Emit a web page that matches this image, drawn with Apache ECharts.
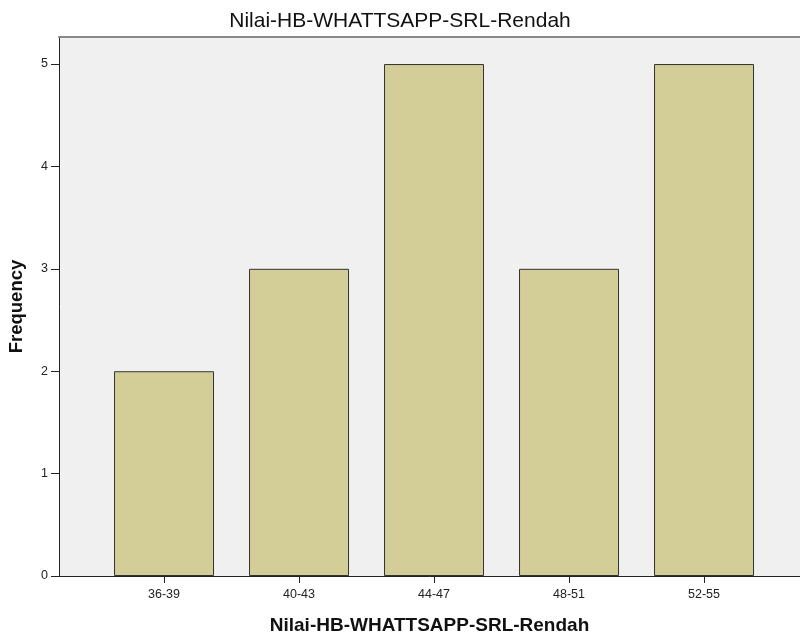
<!DOCTYPE html>
<html>
<head>
<meta charset="utf-8">
<script src="https://cdn.jsdelivr.net/npm/echarts@6/dist/echarts.min.js"></script>
<style>html,body{margin:0;padding:0;background:#fff}#c{width:800px;height:639px}</style>
</head>
<body>
<div id="c"></div>
<script>
var categories = ['36-39', '40-43', '44-47', '48-51', '52-55'];
var frequencies = [2, 3, 5, 3, 5];
var yTicks = [0, 1, 2, 3, 4, 5];

var chart = echarts.init(document.getElementById('c'));
var font = 'Liberation Sans, Arial, sans-serif';
var positions = categories.map(function (c, i) { return i; });
chart.setOption({
  animation: false,
  backgroundColor: '#ffffff',
  title: {
    text: 'Nilai-HB-WHATTSAPP-SRL-Rendah',
    left: 'center', top: 6,
    textStyle: { fontFamily: font, fontSize: 21, fontWeight: 'normal', color: '#111' }
  },
  grid: {
    left: 59, right: 0, top: 37, bottom: 63,
    containLabel: false, outerBoundsMode: 'none',
    show: true, backgroundColor: '#f0f0f0', borderWidth: 0
  },
  xAxis: [{
    type: 'value', min: -0.778, max: 4.711,
    position: 'bottom',
    splitLine: { show: false },
    axisLine: { show: true, onZero: false, lineStyle: { color: '#222', width: 1 } },
    axisTick: { show: true, length: 7, customValues: positions, lineStyle: { color: '#222' } },
    axisLabel: {
      customValues: positions, margin: 12,
      formatter: function (v) { return categories[Math.round(v)]; },
      fontFamily: font, fontSize: 12.5, color: '#222'
    },
    name: 'Nilai-HB-WHATTSAPP-SRL-Rendah', nameLocation: 'middle', nameGap: 40,
    nameTextStyle: { fontFamily: font, fontSize: 19, fontWeight: 'bold', color: '#111' }
  }, {
    type: 'value', min: -0.778, max: 4.711, position: 'top',
    splitLine: { show: false }, axisTick: { show: false }, axisLabel: { show: false },
    axisLine: { show: true, onZero: false, lineStyle: { color: '#888', width: 2 } }
  }],
  yAxis: {
    type: 'value', min: 0, max: 5.264,
    splitLine: { show: false },
    axisLine: { show: true, onZero: false, lineStyle: { color: '#222', width: 1 } },
    axisTick: { show: true, length: 8, customValues: yTicks, lineStyle: { color: '#222' } },
    axisLabel: { customValues: yTicks, margin: 11, fontFamily: font, fontSize: 12.5, color: '#222' },
    name: 'Frequency', nameLocation: 'middle', nameGap: 33, nameRotate: 90,
    nameTextStyle: { fontFamily: font, fontSize: 18.5, fontWeight: 'bold', color: '#111' }
  },
  series: [{
    type: 'bar',
    barWidth: 100,
    data: frequencies.map(function (v, i) { return [positions[i], v]; }),
    itemStyle: { color: '#d3ce97', borderColor: '#333', borderWidth: 1 }
  }]
});
</script>
</body>
</html>
